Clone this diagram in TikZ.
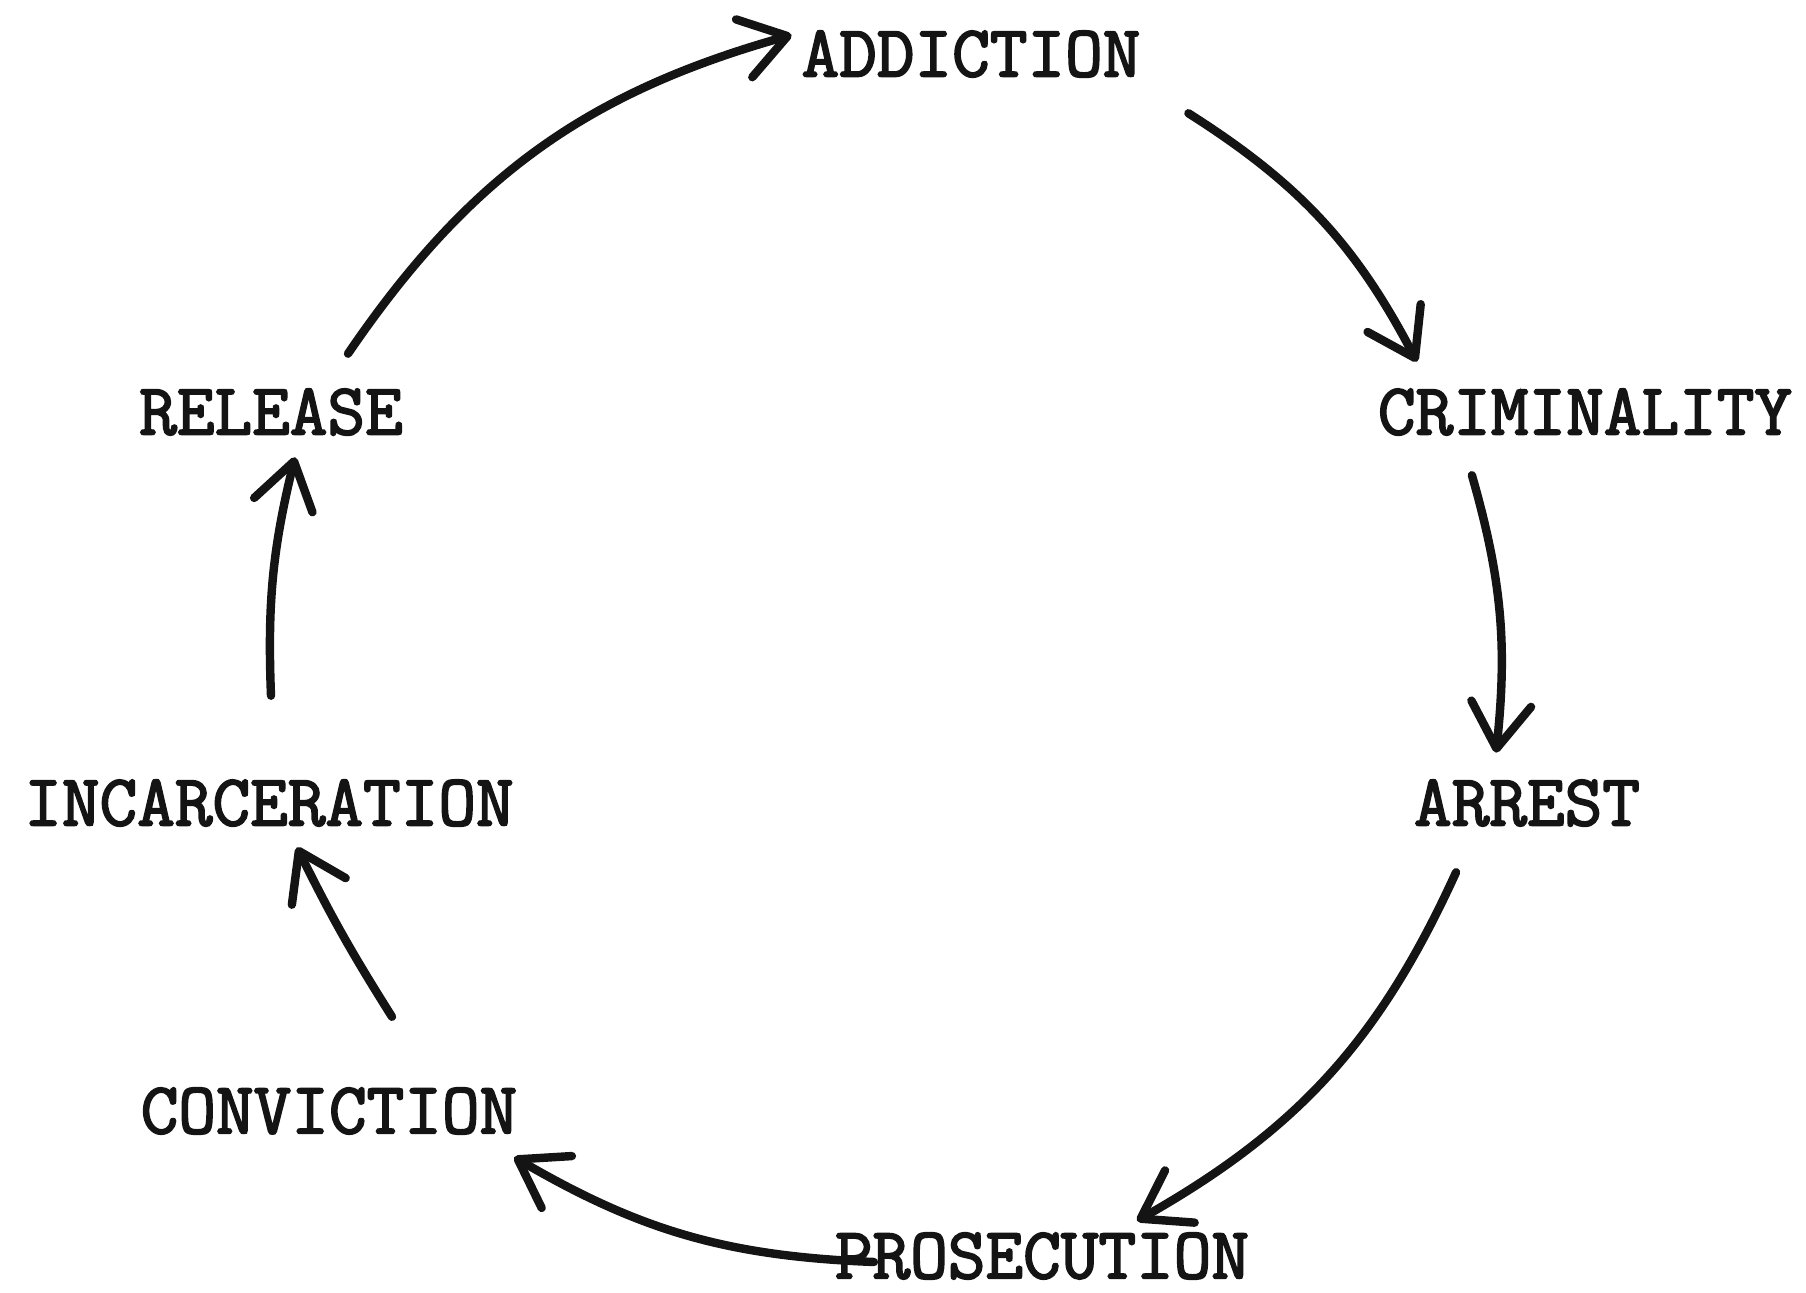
\documentclass[tikz,border=0pt]{standalone}
\usepackage{fontspec}
\usepackage{xcolor}
\usepackage{tikz}
\usetikzlibrary{arrows.meta,positioning}
\newfontfamily\stagefont[FakeBold=2.5]{Latin Modern Mono}
\definecolor{cyInk}{RGB}{ 20, 20, 20}

\begin{document}
\begin{tikzpicture}[
  every node/.style={font=\fontsize{20.8}{24}\selectfont\stagefont,text=cyInk},
  stage/.style={inner sep=0pt,outer sep=0pt},
  arr/.style={draw=cyInk,line width=2.4pt,line cap=round,
    -{Straight Barb[length=4.5mm,width=6mm,round]}}
]
\useasboundingbox (0,0) rectangle (18.06,12.93);

% stages
\node[stage] (ADD)  at (9.71,12.39) {ADDICTION};
\node[stage] (CRIM) at (15.85,8.81) {CRIMINALITY};
\node[stage] (ARR)  at (15.27,4.90) {ARREST};
\node[stage] (PROS) at (10.42,0.37) {PROSECUTION};
\node[stage] (CONV) at (3.29,1.82)  {CONVICTION};
\node[stage] (INC)  at (2.69,4.90)  {INCARCERATION};
\node[stage] (REL)  at (2.71,8.81)  {RELEASE};

% cycle
\draw[arr] ([shift={(0.48,-0.36)}]ADD.south east) to[bend left=15]
  ([shift={(0.39,0.27)}]CRIM.north west);
\draw[arr] ([shift={(0.94,-0.40)}]CRIM.south west) to[bend left=11]
  ([shift={(0.82,0.27)}]ARR.north west);
\draw[arr] ([shift={(0.42,-0.46)}]ARR.south west) to[bend left=18]
  ([shift={(0.95,0.12)}]PROS.north);
\draw[arr] ([shift={(0.39,-0.06)}]PROS.west) to[bend left=14]
  ([shift={(-0.03,-0.23)}]CONV.south east);
\draw[arr] ([shift={(0.63,0.71)}]CONV.north) to[bend left=3]
  ([shift={(0.28,-0.21)}]INC.south);
\draw[arr] ([shift={(0.02,0.84)}]INC.north) to[bend left=8]
  ([shift={(0.24,-0.22)}]REL.south);
\draw[arr] ([shift={(0.77,0.35)}]REL.north) to[bend left=20]
  ([shift={(-0.10,0.19)}]ADD.west);
\end{tikzpicture}
\end{document}
